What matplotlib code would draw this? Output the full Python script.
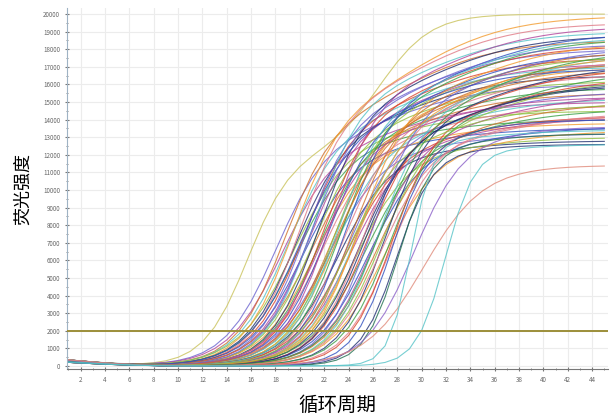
import numpy as np
import matplotlib
matplotlib.use('Agg')
import matplotlib.pyplot as plt
from matplotlib.ticker import MultipleLocator

plt.rcParams['font.family'] = ['Noto Sans CJK SC', 'DejaVu Sans']

# amplification curves
# ct: cycle where the curve crosses the threshold, width: rise width,
# top: level after the main rise, end: level at the last cycle,
# lag/drift_w: where and how slowly the late drift comes in
THRESHOLD = 2000
cycles = np.arange(1, 46)
ct = [12.8,
      14.5, 14.9, 15.2, 15.4, 15.6, 15.8, 16.0, 16.1, 16.3, 16.5,
      16.6, 16.8, 17.0, 17.1, 17.3, 17.4, 17.6, 17.8, 17.9, 18.1,
      18.2, 18.4, 18.5, 18.7, 18.9, 19.0, 19.2, 19.3, 19.5, 19.7,
      19.8, 20.0, 20.1, 20.3, 20.5, 20.6, 20.8, 21.0, 21.1, 21.3,
      21.5, 21.6, 21.8, 22.0, 22.2, 22.4, 22.6, 22.8, 23.0, 23.3,
      23.6, 23.9, 24.2, 24.4,
      16.2, 17.2, 18.0, 18.8, 19.4, 20.2, 20.9, 21.7, 22.5, 23.1,
      24.8, 25.5, 25.8, 26.0, 26.5, 27.6, 30.0]
width = [1.8,
         2.1, 2.2, 2.0, 2.1, 2.3, 2.0, 2.1, 2.2, 2.0, 2.1,
         2.2, 2.0, 2.1, 2.3, 2.0, 2.1, 2.2, 2.0, 2.1, 2.2,
         2.0, 2.1, 2.3, 2.0, 2.1, 2.2, 2.0, 2.1, 2.2, 2.0,
         2.1, 2.3, 2.0, 2.1, 2.2, 2.0, 2.1, 2.2, 2.0, 2.1,
         2.3, 2.0, 2.1, 2.2, 2.0, 2.1, 2.2, 2.0, 2.1, 2.2,
         1.9, 2.0, 1.9, 1.8,
         2.2, 2.0, 2.1, 2.3, 2.0, 2.2, 2.1, 2.0, 2.2, 2.1,
         1.6, 1.5, 1.4, 2.0, 2.4, 0.9, 1.2]
top = [12000,
       12600, 12300, 13500, 13200, 12800, 14000, 13200, 12600, 14600, 13800,
       12200, 14200, 13600, 12900, 15200, 13400, 12400, 14800, 13100, 12700,
       14400, 13900, 12300, 15400, 13300, 12800, 14100, 13700, 12100, 14600,
       13500, 12600, 15100, 13000, 12500, 14300, 13800, 12200, 14900, 13200,
       12700, 14000, 13600, 12400, 15000, 13100, 12900, 14500, 13300, 12300,
       14200, 13700, 12800, 13900,
       13400, 14100, 12900, 13600, 14700, 12800, 13900, 13200, 14400, 12600,
       13000, 12200, 12500, 12800, 11200, 12800, 12300]
end = [20000,
       16000, 15000, 18500, 17000, 14500, 19900, 16500, 14000, 19500, 17500,
       13500, 18000, 17200, 15500, 19000, 16200, 13800, 18800, 15800, 14800,
       18200, 17800, 13200, 19300, 16800, 15200, 17600, 17000, 12800, 18600,
       16600, 14200, 18900, 15600, 14100, 17900, 17300, 13000, 18400, 16000,
       14600, 17400, 16900, 13600, 18100, 15400, 15000, 17700, 16300, 13400,
       17100, 16700, 14400, 16400,
       16900, 18300, 15300, 17200, 18700, 14900, 17600, 16100, 17900, 14300,
       14000, 12600, 13200, 13600, 11400, 13400, 12600]
lag = [10.9] + [10.0] * 64 + [7.0] * 7
drift_w = [2.1] + [4.0] * 64 + [3.0] * 7

# small starting hump shared by all wells (cycles 1-10)
baseline = [340, 280, 220, 165, 120, 85, 55, 30, 12, 0]

palette = ['#c9c25a', '#6b63cf', '#d9432c', '#3a9f45', '#f29b2e', '#55c3c7',
           '#b1449b', '#2f4fbf', '#e07a86', '#1f2f70', '#8fbf3f', '#d0702a']
late_colors = ['#2f4fbf', '#1f2f70', '#1f6f50', '#8a5fc8', '#e08a7a', '#55c3c7',
               '#55c3c7']

fig = plt.figure(figsize=(6.11, 4.18), dpi=100)
ax = fig.add_axes([0.110, 0.117, 0.885, 0.864])

base = np.zeros(len(cycles))
base[:len(baseline)] = baseline

n_main = len(ct) - len(late_colors)
for i in range(len(ct)):
    # place the logistic so that it passes the threshold at ct
    mid = ct[i] + width[i] * np.log((top[i] - THRESHOLD) / THRESHOLD)
    main = top[i] / (1 + np.exp(-(cycles - mid) / width[i]))
    drift = (end[i] - top[i]) / (1 + np.exp(-(cycles - mid - lag[i]) / drift_w[i]))
    y = base * (0.6 + 0.1 * (i % 5)) + main + drift
    if i == 0:
        color = palette[0]
    elif i < n_main:
        color = palette[1 + (i * 5 - 5) % (len(palette) - 1)]
    else:
        color = late_colors[i - n_main]
    ax.plot(cycles, y, color=color, lw=0.8, alpha=0.8)

ax.axhline(THRESHOLD, color='#9c8f3a', lw=1.4, zorder=5)

ax.set_xlim(0.9, 45.3)
ax.set_ylim(-180, 20350)
ax.xaxis.set_major_locator(MultipleLocator(2))
ax.xaxis.set_minor_locator(MultipleLocator(1))
ax.yaxis.set_major_locator(MultipleLocator(1000))
ax.yaxis.set_minor_locator(MultipleLocator(500))
ax.set_xticks(np.arange(2, 45, 2))
ax.grid(True, which='major', color='#ececec', lw=0.8)
ax.set_axisbelow(True)

ax.tick_params(axis='both', which='both', direction='inout', color='#777777',
               labelsize=4.5, labelcolor='#666666', length=3)
ax.tick_params(axis='both', which='minor', length=2)
for side in ['top', 'right']:
    ax.spines[side].set_visible(False)
ax.spines['left'].set_color('#9fb3c4')
ax.spines['bottom'].set_color('#777777')

ax.set_ylabel('荧光强度', fontsize=13, labelpad=8)
ax.set_xlabel('循环周期', fontsize=14, labelpad=8)

fig.savefig('out.png', dpi=100)
